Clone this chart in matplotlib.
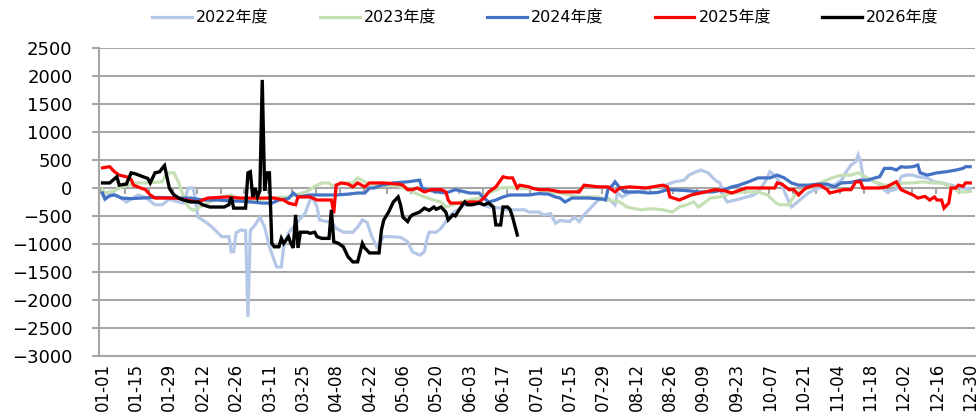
import matplotlib
matplotlib.use("Agg")
import matplotlib.pyplot as plt
from matplotlib.ticker import MultipleLocator, FixedLocator, NullFormatter

plt.rcParams["font.family"] = ["DejaVu Sans", "Noto Sans CJK SC"]

# ── data (day index from 01-01, value) ─────────────────────────────────────
tick_labels = ["01-01", "01-15", "01-29", "02-12", "02-26", "03-11", "03-25",
               "04-08", "04-22", "05-06", "05-20", "06-03", "06-17", "07-01",
               "07-15", "07-29", "08-12", "08-26", "09-09", "09-23", "10-07",
               "10-21", "11-04", "11-18", "12-02", "12-16", "12-30"]

series_names = ["2022年度", "2023年度", "2024年度", "2025年度", "2026年度"]

d2022 = [0, 1, 4, 7, 10, 12, 15, 18, 22, 25, 28, 30, 34, 36, 38, 39, 40, 43, 46, 50,
         53, 54, 55, 56, 58, 60, 61, 62, 64, 66, 68, 70, 73, 75, 76, 78, 80, 82, 85, 87,
         88, 90, 91, 94, 96, 98, 101, 105, 107, 109, 111, 113, 115, 117, 118, 121, 125, 128, 130, 133,
         135, 136, 137, 140, 142, 144, 146, 149, 152, 154, 158, 162, 167, 169, 173, 177, 179, 183, 185, 188,
         190, 192, 196, 198, 200, 202, 204, 206, 208, 212, 215, 216, 218, 221, 225, 229, 233, 236, 240, 244,
         246, 249, 251, 254, 257, 259, 261, 262, 267, 270, 273, 275, 278, 280, 282, 285, 287, 289, 291, 294,
         296, 299, 301, 304, 307, 310, 312, 314, 316, 317, 318, 319, 322, 325, 327, 329, 333, 335, 337, 340,
         342, 346, 349, 352, 356, 360, 364]
v2022 = [-125, -180, -90, -160, -250, -200, -125, -170, -300, -300, -200, -230, -270, 0, 0, -215, -520, -600, -700, -870,
         -870, -1140, -1140, -800, -750, -760, -2300, -760, -660, -520, -700, -1050, -1410, -1410, -1050, -800, -700, -600, -450, -215,
         -160, -340, -570, -600, -600, -720, -790, -790, -700, -570, -620, -870, -1050, -930, -870, -870, -880, -960, -1140, -1200,
         -1140, -930, -790, -790, -720, -600, -480, -390, -300, -250, -270, -340, -360, -390, -390, -390, -430, -430, -480, -460,
         -630, -580, -600, -520, -600, -480, -390, -300, -215, -180, -300, -90, -160, -90, -70, 0, 20, 50, 110, 140,
         230, 290, 320, 270, 140, 90, -180, -250, -200, -160, -130, -70, 110, 290, 230, 50, -160, -340, -270, -160,
         -90, -30, 10, 50, 50, 140, 290, 410, 470, 590, 470, 200, 140, 90, 0, -70, -20, 200, 230, 230,
         200, 180, 110, 90, 50, 0, -10]

d2023 = [0, 1, 5, 8, 14, 19, 25, 27, 30, 32, 34, 36, 38, 40, 44, 50, 54, 57, 61, 65,
         70, 74, 78, 82, 86, 89, 92, 95, 96, 98, 101, 105, 107, 110, 112, 115, 118, 124, 128, 131,
         135, 139, 142, 144, 147, 150, 154, 158, 162, 167, 171, 175, 179, 183, 187, 192, 196, 200, 208, 212,
         217, 220, 222, 226, 230, 235, 239, 242, 245, 248, 250, 253, 255, 259, 264, 270, 275, 279, 282, 284,
         288, 289, 291, 294, 298, 302, 306, 310, 314, 317, 320, 324, 328, 332, 336, 340, 344, 348, 352, 357,
         359, 362, 364]
v2023 = [-30, -90, -50, 20, 90, 90, 110, 270, 270, 90, -160, -340, -400, -360, -270, -160, -125, -200, -250, -220,
         -180, -170, -160, -110, -60, 30, 90, 90, 50, 50, 90, 90, 180, 110, 70, 50, 50, 40, -30, -90,
         -160, -215, -250, -340, -300, -250, -215, -180, -90, 0, 10, -10, -10, -30, -70, -90, -125, -160, -160, -215,
         -250, -340, -360, -390, -370, -390, -430, -340, -300, -250, -340, -250, -180, -160, -90, -70, -70, -125, -250, -300,
         -300, -215, -90, -30, 20, 110, 180, 230, 230, 270, 200, 110, 50, 50, 90, 90, 110, 90, 90, 0,
         -70, -70, -60]

d2024 = [0, 1, 3, 5, 8, 12, 21, 25, 31, 37, 42, 48, 54, 60, 67, 71, 74, 78, 80, 82,
         87, 93, 98, 103, 107, 110, 112, 114, 117, 122, 128, 133, 134, 136, 140, 144, 148, 154, 158, 160,
         162, 165, 168, 171, 179, 183, 187, 190, 192, 194, 197, 204, 210, 211, 212, 214, 215, 217, 219, 225,
         229, 233, 237, 242, 246, 250, 256, 261, 264, 267, 271, 275, 280, 283, 286, 289, 292, 296, 300, 304,
         307, 310, 314, 318, 321, 324, 326, 328, 331, 333, 335, 337, 340, 342, 343, 346, 350, 354, 358, 361,
         362, 364]
v2024 = [-90, -200, -140, -125, -180, -190, -170, -170, -180, -180, -215, -215, -230, -240, -270, -270, -215, -190, -90, -160,
         -125, -125, -125, -110, -90, -90, 0, 0, 50, 90, 110, 140, 0, -30, -70, -90, -30, -90, -90, -180,
         -250, -215, -160, -125, -125, -100, -110, -160, -180, -250, -180, -180, -200, -215, -30, 50, 110, 0, -70, -70,
         -90, -80, -30, -40, -50, -70, -70, -30, 20, 50, 110, 180, 180, 230, 180, 90, 50, 50, 70, 70,
         20, 90, 100, 140, 140, 180, 200, 350, 350, 320, 380, 370, 380, 410, 270, 230, 270, 290, 320, 350,
         380, 380]

d2025 = [0, 3, 5, 7, 10, 12, 13, 16, 18, 20, 22, 26, 31, 35, 40, 44, 52, 58, 67, 72,
         76, 78, 81, 82, 87, 90, 96, 97, 98, 100, 103, 105, 107, 110, 112, 118, 124, 126, 128, 130,
         132, 135, 138, 142, 144, 145, 146, 151, 154, 158, 160, 162, 165, 167, 168, 170, 172, 174, 175, 179,
         180, 183, 187, 192, 200, 202, 208, 212, 215, 217, 221, 228, 235, 237, 238, 242, 247, 253, 257, 261,
         264, 270, 278, 282, 283, 285, 288, 290, 292, 295, 299, 301, 304, 305, 308, 311, 314, 316, 318, 319,
         326, 329, 332, 333, 335, 337, 340, 342, 345, 347, 349, 350, 352, 353, 355, 356, 358, 359, 361, 362,
         364]
v2025 = [360, 380, 290, 230, 200, 150, 50, 0, -30, -125, -180, -180, -180, -215, -250, -180, -160, -180, -180, -180,
         -215, -270, -300, -160, -160, -215, -215, -450, 50, 90, 70, 20, 90, 20, 90, 90, 70, 50, -30, -30,
         0, -70, -30, -30, -70, -215, -270, -270, -250, -250, -180, -70, 20, 140, 200, 180, 180, 0, 50, 20,
         0, -30, -30, -70, -70, 50, 20, 20, -70, 0, 20, 0, 50, 20, -160, -215, -125, -70, -30, -50,
         -90, 0, 0, 0, 90, 70, -30, -30, -125, 0, 50, 50, -30, -90, -60, -30, -30, 110, 110, 0,
         0, 20, 90, 110, -30, -70, -125, -180, -150, -215, -160, -215, -215, -360, -270, 0, 0, 50, 30, 90,
         90]

d2026 = [0, 3, 6, 7, 10, 12, 14, 17, 19, 20, 22, 24, 25, 26, 28, 29, 30, 32, 34, 37,
         40, 42, 45, 51, 53, 54, 55, 60, 61, 62, 63, 64, 65, 66, 67, 68, 69, 70, 71, 72,
         74, 75, 76, 78, 79, 80, 81, 82, 83, 86, 87, 89, 90, 92, 95, 96, 97, 99, 101, 103,
         105, 107, 109, 110, 112, 116, 117, 118, 120, 122, 124, 125, 126, 128, 129, 130, 133, 135, 137, 139,
         140, 142, 144, 145, 147, 148, 149, 151, 152, 153, 155, 158, 160, 162, 164, 165, 167, 168, 170, 171,
         172, 174]
v2026 = [90, 90, 200, 50, 70, 270, 250, 200, 170, 90, 270, 290, 350, 400, 0, -70, -125, -180, -215, -250,
         -250, -300, -340, -340, -300, -160, -360, -360, 270, 290, -160, 0, -160, -50, 1930, -50, 270, 270, -990, -1050,
         -1050, -900, -990, -870, -990, -1070, -480, -1070, -790, -790, -810, -790, -870, -900, -900, -390, -960, -990, -1050, -1230,
         -1320, -1320, -990, -1070, -1160, -1160, -750, -570, -430, -250, -160, -300, -520, -600, -520, -480, -430, -360, -400, -340,
         -380, -340, -430, -570, -480, -500, -430, -300, -250, -300, -300, -270, -300, -270, -340, -660, -660, -340, -340, -390,
         -520, -840]

COLORS = ["#B4C7E7", "#C5E0B4", "#4472C4", "#FF0000", "#000000"]
GRID   = "#A6A6A6"

# ── plot ────────────────────────────────────────────────────────────────────
fig = plt.figure(figsize=(9.79, 4.19), dpi=100)
ax  = fig.add_axes([0.1011, 0.1504, 0.8948, 0.7351])

all_days = [d2022, d2023, d2024, d2025, d2026]
all_vals = [v2022, v2023, v2024, v2025, v2026]
widths   = [2.3, 2.3, 2.3, 2.3, 2.4]
for days, vals, name, col, lw in zip(all_days, all_vals, series_names, COLORS, widths):
    ax.plot(days, vals, color=col, lw=lw, label=name, solid_joinstyle="miter")

ax.set_xlim(-1.5, 366)
ax.set_ylim(-3000, 2500)
ax.yaxis.set_major_locator(MultipleLocator(500))
ax.grid(axis="y", color=GRID, lw=1.5)
ax.set_axisbelow(True)

ax.set_xticks(range(0, 365, 14))
ax.set_xticklabels(tick_labels, rotation=90, fontsize=12)
ax.tick_params(axis="x", length=0, pad=5)
ax.tick_params(axis="y", length=5, width=1.5, color=GRID, labelsize=13, pad=14)

for s in ("top", "right"):
    ax.spines[s].set_visible(False)
for s in ("left", "bottom"):
    ax.spines[s].set_color(GRID)
    ax.spines[s].set_linewidth(1.5)

# category axis crossing at zero, with small tick marks every 10 days
zero_ax = ax.secondary_xaxis(3000 / 5500)
zero_ax.xaxis.set_ticks_position("bottom")
zero_ax.xaxis.set_major_locator(FixedLocator([i - 0.5 for i in range(0, 366, 10)]))
zero_ax.xaxis.set_major_formatter(NullFormatter())
zero_ax.tick_params(axis="x", direction="out", length=4, width=1.5, color=GRID,
                    labelbottom=False, labeltop=False)
for s in zero_ax.spines.values():
    s.set_visible(False)

fig.legend(loc="center", bbox_to_anchor=(0.557, 0.957), ncol=5, frameon=False,
           fontsize=11.5, handlelength=2.5, handletextpad=0.25, columnspacing=3.2)

fig.savefig("out.png", dpi=100)
